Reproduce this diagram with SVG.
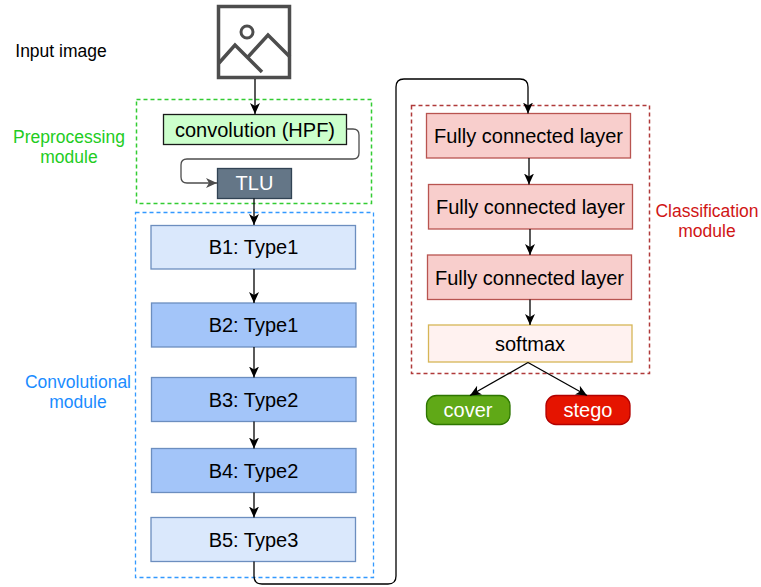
<svg xmlns="http://www.w3.org/2000/svg" width="761" height="587" viewBox="0 0 761 587">
  <defs>
    <style>
      text { font-family: "Liberation Sans", Arial, sans-serif; }
      .t20 { font-size: 20px; text-anchor: middle; fill: #000; }
      .lbl { font-size: 17.5px; text-anchor: middle; }
      .conn { fill: none; stroke: #000; stroke-width: 1.3; }
    </style>
    <marker id="arr" markerWidth="12" markerHeight="12" viewBox="0 0 12 12" refX="11" refY="6" orient="auto" markerUnits="userSpaceOnUse">
      <path d="M0,1 L11,6 L0,11 L3,6 Z" fill="#000"/>
    </marker>
    <marker id="arrg" markerWidth="12" markerHeight="12" viewBox="0 0 12 12" refX="11" refY="6" orient="auto" markerUnits="userSpaceOnUse">
      <path d="M0,1 L11,6 L0,11 L3,6 Z" fill="#4d4d4d"/>
    </marker>
  </defs>
  <rect width="761" height="587" fill="#fff"/>

  <!-- module frames -->
  <g id="preprocessing-module">
    <rect x="136.5" y="99.5" width="235" height="104" fill="none" stroke="#33cc33" stroke-width="1.5" stroke-dasharray="4 3"/>
    <text class="lbl" x="69" y="143" fill="#22cc22">Preprocessing</text>
    <text class="lbl" x="69" y="163" fill="#22cc22">module</text>
  </g>
  <g id="convolutional-module">
    <rect x="135.5" y="212.5" width="238" height="365" fill="none" stroke="#3399ff" stroke-width="1.3" stroke-dasharray="4 3"/>
    <text class="lbl" x="78" y="388" fill="#1a8cff">Convolutional</text>
    <text class="lbl" x="78" y="408" fill="#1a8cff">module</text>
  </g>
  <g id="classification-module">
    <rect x="411.5" y="105.5" width="238" height="268" fill="none" stroke="#b03a3a" stroke-width="1.5" stroke-dasharray="4 3"/>
    <text class="lbl" x="707" y="217" fill="#d01515">Classification</text>
    <text class="lbl" x="707" y="237" fill="#d01515">module</text>
  </g>

  <g id="input-image">
    <rect x="218.5" y="6.5" width="71" height="71" fill="#fff" stroke="#4d4d4d" stroke-width="3.5"/>
    <circle cx="247" cy="32" r="6" fill="none" stroke="#4d4d4d" stroke-width="3"/>
    <polyline points="219,63 235,45 262,72" fill="none" stroke="#4d4d4d" stroke-width="3.5"/>
    <polyline points="248,57 268,35 290,57" fill="none" stroke="#4d4d4d" stroke-width="3.5"/>
    <text x="61" y="57" font-size="17.5" text-anchor="middle" fill="#000">Input image</text>
  </g>

  <g id="conv-hpf">
    <rect x="163.5" y="114.5" width="183" height="30" fill="#ccffcc" stroke="#1a1a1a" stroke-width="1.3"/>
    <text class="t20" x="255" y="137">convolution (HPF)</text>
  </g>
  <g id="tlu">
    <rect x="217.5" y="168.5" width="74" height="30" fill="#647687" stroke="#314354" stroke-width="1.3"/>
    <text class="t20" x="254.5" y="190" style="fill:#fff">TLU</text>
  </g>

  <g id="b1">
    <rect x="151" y="225.5" width="204.5" height="43.5" fill="#dae8fc" stroke="#6c8ebf" stroke-width="1.3"/>
    <text class="t20" x="253.5" y="254">B1: Type1</text>
  </g>
  <g id="b2">
    <rect x="151.5" y="303" width="204.5" height="44" fill="#a3c5f9" stroke="#6c8ebf" stroke-width="1.3"/>
    <text class="t20" x="253.5" y="332">B2: Type1</text>
  </g>
  <g id="b3">
    <rect x="151.5" y="377.5" width="204.5" height="44" fill="#a3c5f9" stroke="#6c8ebf" stroke-width="1.3"/>
    <text class="t20" x="253.5" y="406.5">B3: Type2</text>
  </g>
  <g id="b4">
    <rect x="151.5" y="448.5" width="204.5" height="44" fill="#a3c5f9" stroke="#6c8ebf" stroke-width="1.3"/>
    <text class="t20" x="253.5" y="477.5">B4: Type2</text>
  </g>
  <g id="b5">
    <rect x="151" y="517.5" width="204.5" height="44" fill="#dae8fc" stroke="#6c8ebf" stroke-width="1.3"/>
    <text class="t20" x="253.5" y="546.5">B5: Type3</text>
  </g>

  <g id="fc1">
    <rect x="426.5" y="113.5" width="204" height="44.5" fill="#f8cecc" stroke="#b85450" stroke-width="1.3"/>
    <text class="t20" x="528.5" y="143">Fully connected layer</text>
  </g>
  <g id="fc2">
    <rect x="428.5" y="184.5" width="204" height="44.5" fill="#f8cecc" stroke="#b85450" stroke-width="1.3"/>
    <text class="t20" x="530.5" y="214">Fully connected layer</text>
  </g>
  <g id="fc3">
    <rect x="427.5" y="255" width="204" height="44.5" fill="#f8cecc" stroke="#b85450" stroke-width="1.3"/>
    <text class="t20" x="529.5" y="284.5">Fully connected layer</text>
  </g>
  <g id="softmax">
    <rect x="428.5" y="325" width="203.5" height="37" fill="#fff2f0" stroke="#d6b656" stroke-width="1.3"/>
    <text class="t20" x="530" y="350.5">softmax</text>
  </g>
  <g id="cover">
    <rect x="426.5" y="395.5" width="83.5" height="29" rx="10" ry="10" fill="#60a917" stroke="#2d7600" stroke-width="1.3"/>
    <text class="t20" x="468" y="417" style="fill:#fff">cover</text>
  </g>
  <g id="stego">
    <rect x="546" y="395.5" width="84" height="29" rx="10" ry="10" fill="#e51400" stroke="#b20000" stroke-width="1.3"/>
    <text class="t20" x="588" y="417" style="fill:#fff">stego</text>
  </g>

  <g id="connectors">
    <path class="conn" d="M255,79 L255,114" marker-end="url(#arr)"/>
    <path d="M346.5,129 L353,129 Q359,129 359,135 L359,153 Q359,159 353,159 L187,159 Q181,159 181,165 L181,177 Q181,183 187,183 L217,183" fill="none" stroke="#4d4d4d" stroke-width="1.3" marker-end="url(#arrg)"/>
    <path class="conn" d="M254,198.5 L254,225" marker-end="url(#arr)"/>
    <path class="conn" d="M254,269 L254,303" marker-end="url(#arr)"/>
    <path class="conn" d="M254,347 L254,377.5" marker-end="url(#arr)"/>
    <path class="conn" d="M254,421.5 L254,448.5" marker-end="url(#arr)"/>
    <path class="conn" d="M254,492.5 L254,517.5" marker-end="url(#arr)"/>
    <path class="conn" d="M254,561.5 L254,576 Q254,584 262,584 L388,584 Q396,584 396,576 L396,87 Q396,79 404,79 L520,79 Q528,79 528,87 L528,113.5" marker-end="url(#arr)"/>
    <path class="conn" d="M529,158 L529,184.5" marker-end="url(#arr)"/>
    <path class="conn" d="M530,229 L530,255" marker-end="url(#arr)"/>
    <path class="conn" d="M530,299.5 L530,325" marker-end="url(#arr)"/>
    <path class="conn" d="M528,362.5 L470,395.5" marker-end="url(#arr)"/>
    <path class="conn" d="M528,362.5 L587,395.5" marker-end="url(#arr)"/>
  </g>
</svg>
